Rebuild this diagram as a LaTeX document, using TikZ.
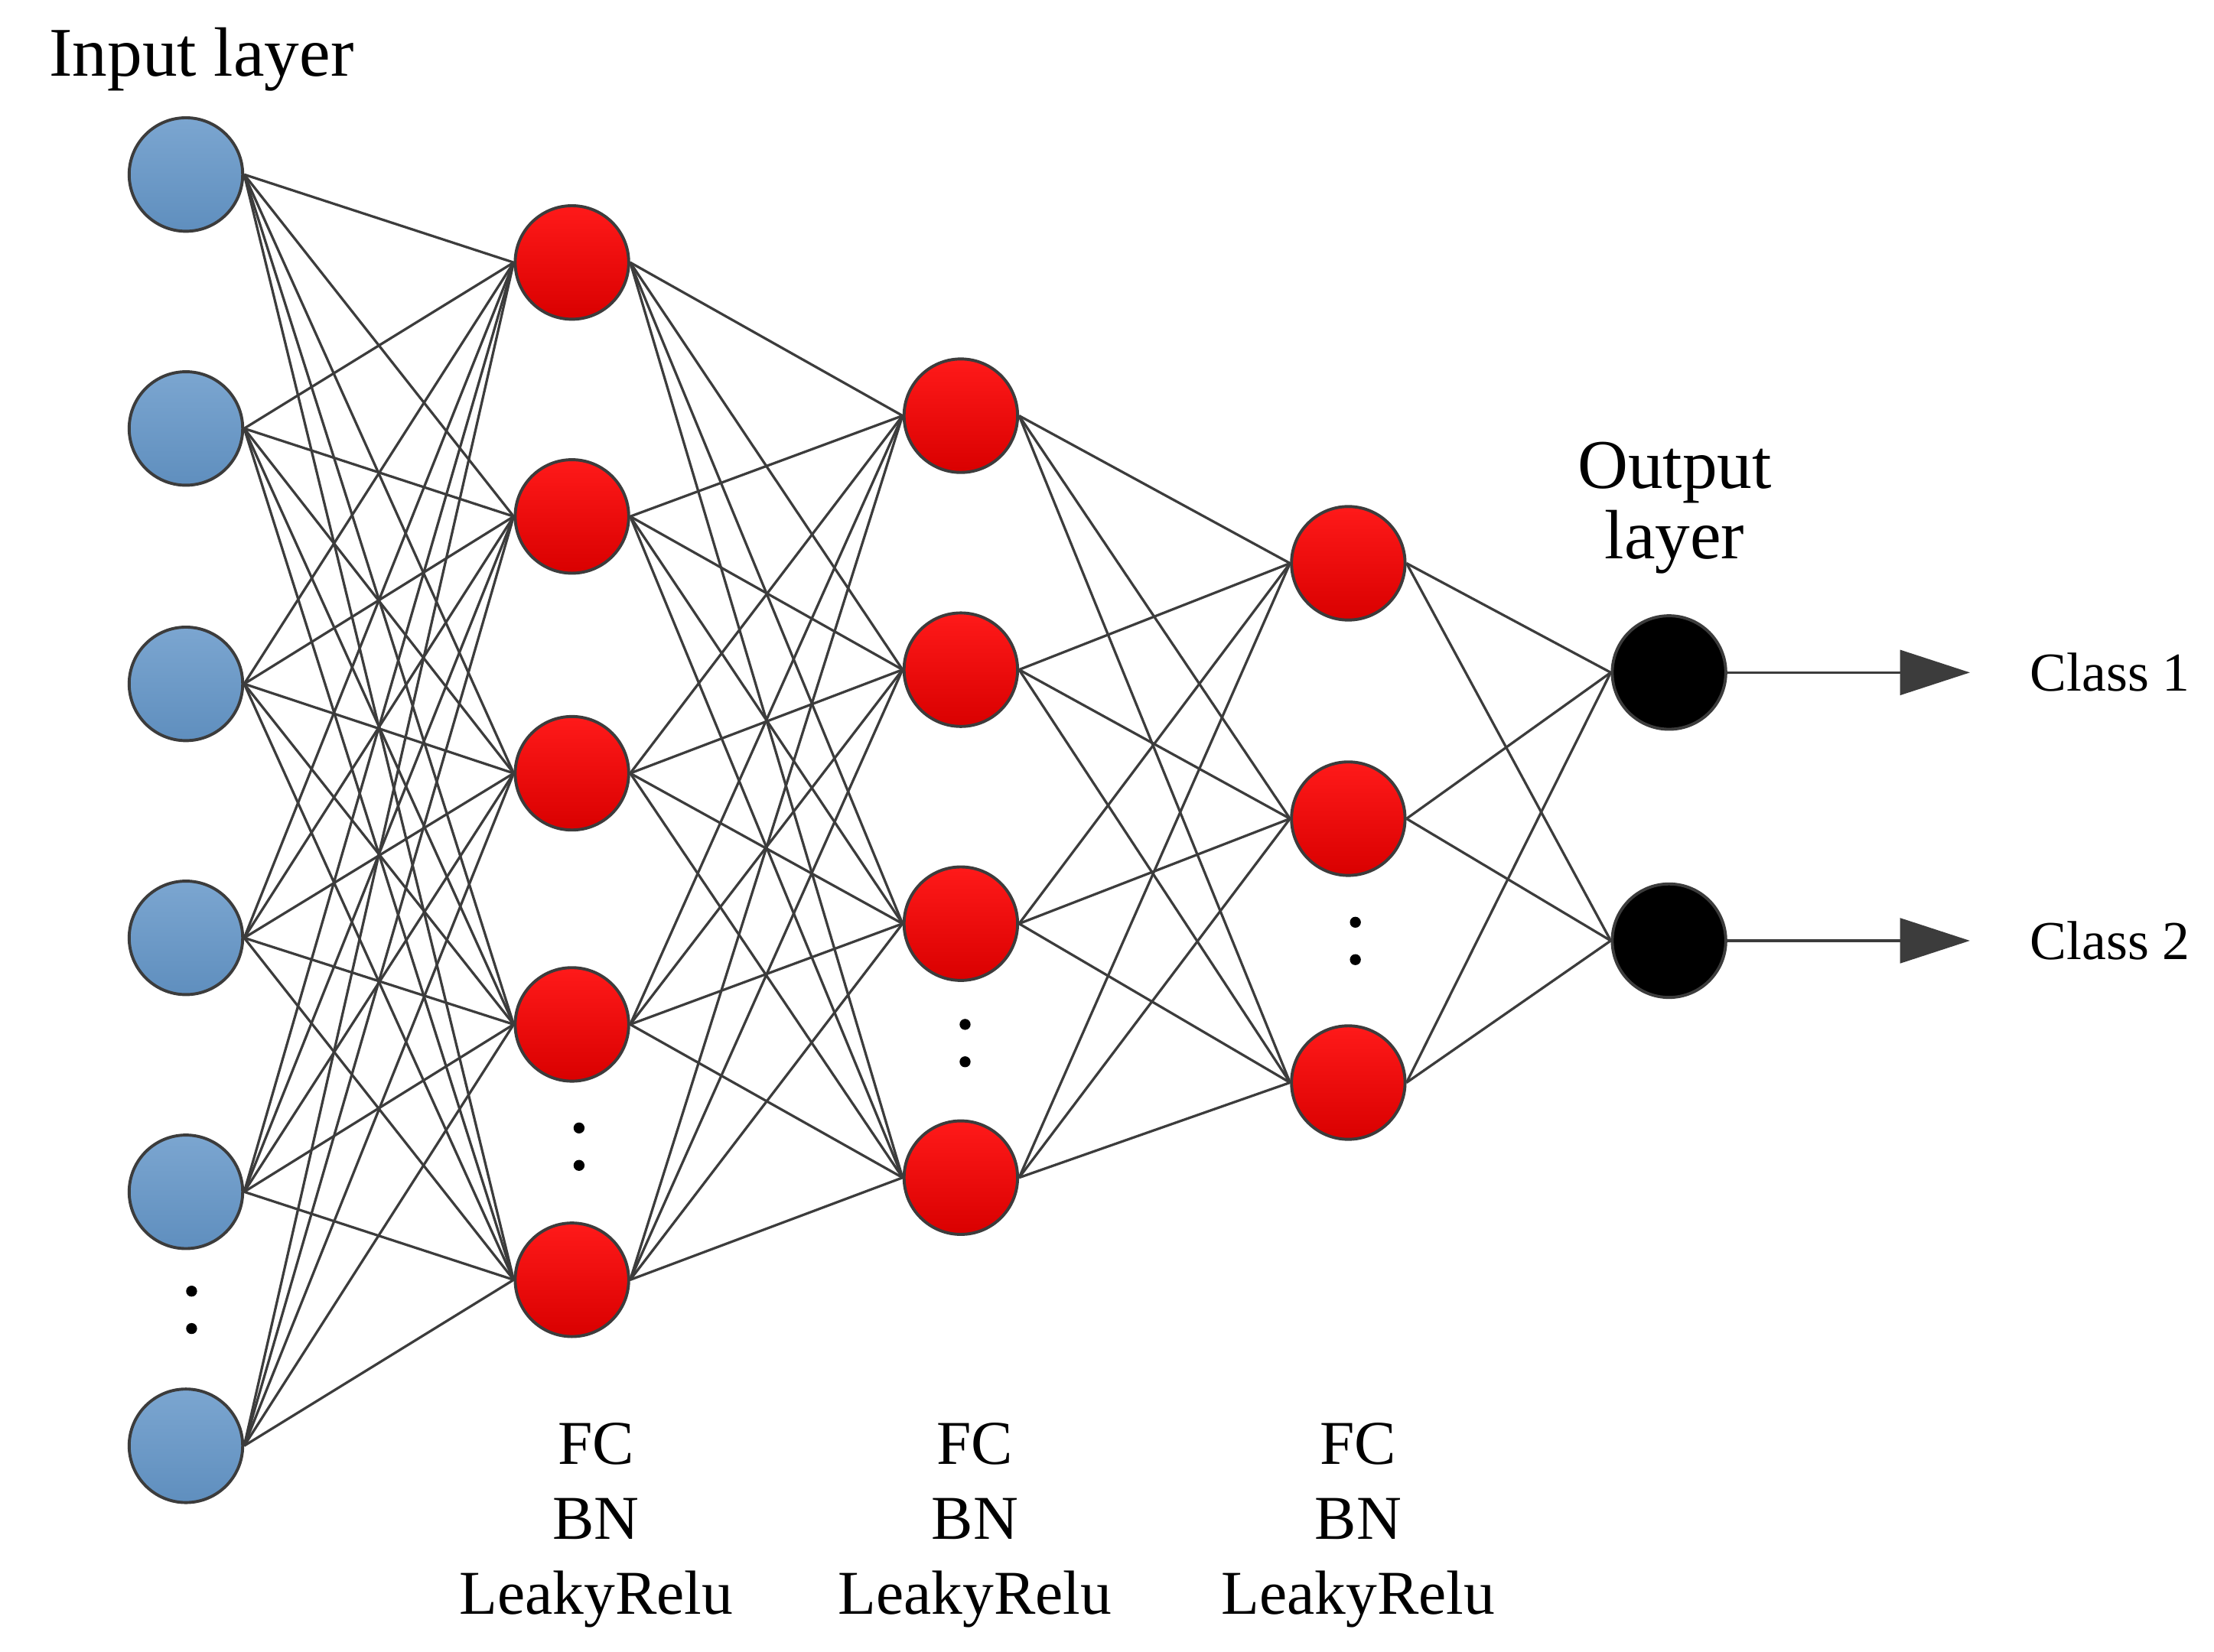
\documentclass[tikz,border=0pt]{standalone}
\usepackage{fontspec}
\setmainfont{Liberation Serif}
\usetikzlibrary{arrows.meta}
\definecolor{inblue}{RGB}{100,150,200}
\definecolor{edgegray}{RGB}{60,60,60}
\tikzset{
	neuron/.style={circle,draw=edgegray,line width=0.6pt,minimum size=0.8cm,inner sep=0pt},
	innode/.style={neuron,top color=inblue!85!white,bottom color=inblue!95!black},
	hidnode/.style={neuron,top color=red!90!white,bottom color=red!85!black},
	outnode/.style={neuron,fill=black},
	link/.style={draw=edgegray,line width=0.5pt},
	vdots/.style={line width=2.2pt,line cap=round,dash pattern=on 0pt off 7.5pt}
}
\begin{document}
\begin{tikzpicture}[x=0.1mm,y=0.1mm]
	\useasboundingbox (0,0) rectangle (1560,1164);
	% layers
	\foreach \y [count=\i] in {123,302,482,661,840,1019}
		\node[innode] (in\i) at (131,1164-\y) {};
	\foreach \y [count=\i] in {185,364,545,722,902}
		\node[hidnode] (ha\i) at (403,1164-\y) {};
	\foreach \y [count=\i] in {293,472,651,830}
		\node[hidnode] (hb\i) at (677,1164-\y) {};
	\foreach \y [count=\i] in {397,577,763}
		\node[hidnode] (hc\i) at (950,1164-\y) {};
	\foreach \y [count=\i] in {474,663}
		\node[outnode] (out\i) at (1176,1164-\y) {};

	% connections
	\foreach \i in {1,...,6}
		\foreach \j in {1,...,5}
			\draw[link] (in\i.east) -- (ha\j.west);
	\foreach \i in {1,...,5}
		\foreach \j in {1,...,4}
			\draw[link] (ha\i.east) -- (hb\j.west);
	\foreach \i in {1,...,4}
		\foreach \j in {1,...,3}
			\draw[link] (hb\i.east) -- (hc\j.west);
	\foreach \i in {1,...,3}
		\foreach \j in {1,2}
			\draw[link] (hc\i.east) -- (out\j.west);

	% dots
	\draw[vdots] (135,1164-910) -- (135,1164-960);
	\draw[vdots] (408,1164-795) -- (408,1164-845);
	\draw[vdots] (680,1164-722) -- (680,1164-772);
	\draw[vdots] (955,1164-650) -- (955,1164-700);

	% outputs
	\coordinate (c1) at (1388,1164-474);
	\coordinate (c2) at (1388,1164-663);
	\draw[link,-{Triangle[length=14pt,width=9pt]}] (out1) -- (c1);
	\draw[link,-{Triangle[length=14pt,width=9pt]}] (out2) -- (c2);
	\node[font=\fontsize{11}{13}\selectfont,anchor=west] (cl1) at (1418,1164-474) {Class 1};
	\node[font=\fontsize{11}{13}\selectfont,anchor=west] (cl2) at (1418,1164-663) {Class 2};

	% labels
	\node[font=\fontsize{14}{16}\selectfont] (inlab) at (142,1164-42) {Input layer};
	\node[font=\fontsize{14}{16}\selectfont,align=center] (outlab) at (1180,1164-358) {Output\\[-2pt]layer};
	\foreach \x/\n in {420/a,687/b,957/c}
		\node[font=\fontsize{12.5}{15}\selectfont,align=center] (lab\n) at (\x,1164-1075) {FC\\BN\\LeakyRelu};
\end{tikzpicture}
\end{document}
